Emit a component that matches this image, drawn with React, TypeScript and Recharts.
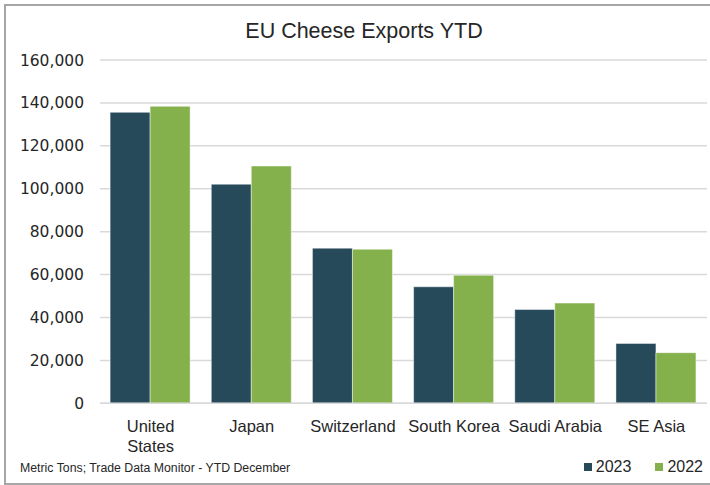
import React from 'react';
import { BarChart, Bar, XAxis, YAxis, CartesianGrid } from 'recharts';

// EU cheese exports, metric tons, YTD December
const categories = ['United\nStates', 'Japan', 'Switzerland', 'South Korea', 'Saudi Arabia', 'SE Asia'];
const exports2023 = [135600, 102100, 72300, 54300, 43700, 27900];
const exports2022 = [138400, 110600, 71800, 59700, 46700, 23600];
const yTicks = [0, 20000, 40000, 60000, 80000, 100000, 120000, 140000, 160000];

const COLOR_2023 = '#264a5a';
const COLOR_2022 = '#84b14c';
const TEXT = '#262626';
const SANS = '"Liberation Sans", Arial, sans-serif';

const data = categories.map((name, i) => ({ name, y2023: exports2023[i], y2022: exports2022[i] }));

const CategoryTick = (props: any) => {
    const { x, y, payload } = props;
    const lines = String(payload.value).split('\n');
    return (
        <text x={x} y={y + 29} textAnchor="middle" fill={TEXT} fontFamily={SANS} fontSize={16.5}>
            {lines.map((line, i) => (
                <tspan key={i} x={x} dy={i === 0 ? 0 : 20}>{line}</tspan>
            ))}
        </text>
    );
};

const LegendItem = ({ color, label }: { color: string; label: string }) => (
    <span style={{ display: 'inline-flex', alignItems: 'center', marginLeft: 24 }}>
        <span style={{ width: 8, height: 8, background: color, marginRight: 4, display: 'inline-block' }} />
        <span>{label}</span>
    </span>
);

export default function App() {
    return (
        <div style={{ position: 'absolute', left: 0, top: 0, width: 710, height: 485, background: '#fff', overflow: 'hidden' }}>
            <div style={{ position: 'absolute', left: 4, top: 4, width: 720, height: 477, border: '2px solid #a6a6a6' }} />
            <BarChart
                width={710}
                height={485}
                data={data}
                margin={{ top: 60, right: 3, left: 0, bottom: 51.7 }}
                barGap={0}
                barCategoryGap="10%"
            >
                <CartesianGrid vertical={false} stroke="#d9d9d9" strokeWidth={1.5} />
                <XAxis dataKey="name" height={30} axisLine={{ stroke: '#d9d9d9', strokeWidth: 1.5 }} tickLine={false} tickSize={0} tickMargin={0} interval={0} tick={<CategoryTick />} />
                <YAxis
                    width={100}
                    domain={[0, 160000]}
                    ticks={yTicks}
                    axisLine={false}
                    tickLine={false}
                    tickSize={0}
                    tickMargin={16}
                    tickFormatter={(v: number) => v.toLocaleString('en-US')}
                    tick={{ fill: TEXT, fontSize: 15.5, fontFamily: '"DejaVu Sans", sans-serif' }}
                />
                <Bar dataKey="y2023" fill={COLOR_2023} stroke="rgba(255,255,255,0.45)" strokeWidth={1} isAnimationActive={false} />
                <Bar dataKey="y2022" fill={COLOR_2022} stroke="rgba(255,255,255,0.45)" strokeWidth={1} isAnimationActive={false} />
            </BarChart>
            <div style={{ position: 'absolute', left: 0, width: 728, top: 16, textAlign: 'center', fontFamily: SANS, fontSize: 21.5, color: TEXT, lineHeight: '30px' }}>
                EU Cheese Exports YTD
            </div>
            <div style={{ position: 'absolute', left: 20, top: 460, fontFamily: SANS, fontSize: 12.3, color: TEXT, lineHeight: '16px' }}>
                Metric Tons; Trade Data Monitor - YTD December
            </div>
            <div style={{ position: 'absolute', right: 7, top: 457, fontFamily: SANS, fontSize: 16, color: TEXT, lineHeight: '20px', display: 'flex' }}>
                <LegendItem color={COLOR_2023} label="2023" />
                <LegendItem color={COLOR_2022} label="2022" />
            </div>
        </div>
    );
}
